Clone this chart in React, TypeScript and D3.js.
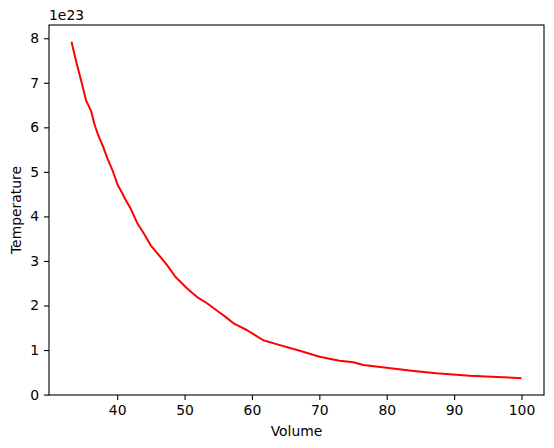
import React, { useEffect, useRef } from 'react';
import * as d3 from 'd3';

// Volume values
const volume = [
  33.22, 33.66, 34.01, 34.65, 35.39, 36.12, 36.61, 37.11, 37.85, 38.58,
  39.32, 40.06, 40.8, 41.03, 42.02, 43.01, 43.98, 44.97, 46.19, 47.43,
  48.66, 50.38, 51.86, 53.33, 55.04, 56.03, 57.26, 59.23, 61.68, 64.14,
  67.09, 70.04, 72.99, 75.06, 76.53, 79.97, 83.66, 87.35, 92.27, 97.18, 100,
];

// Temperature in units of 1e23
const temperature = [
  7.92, 7.64, 7.42, 7.05, 6.6, 6.37, 6.08, 5.85, 5.59, 5.29,
  5.03, 4.71, 4.51, 4.43, 4.17, 3.84, 3.61, 3.35, 3.13, 2.9,
  2.64, 2.38, 2.19, 2.05, 1.86, 1.75, 1.6, 1.45, 1.22, 1.11,
  0.985, 0.85, 0.76, 0.725, 0.665, 0.604, 0.537, 0.479, 0.425, 0.39, 0.368,
];

const xTicks = [40, 50, 60, 70, 80, 90, 100];
const yTicks = [0, 1, 2, 3, 4, 5, 6, 7, 8];

const App: React.FC = () => {
  const svgRef = useRef<SVGSVGElement>(null);

  useEffect(() => {
    if (!svgRef.current) return;

    const width = 554;
    const height = 448;
    const margin = { top: 25, right: 10, bottom: 53, left: 49 };
    const innerW = width - margin.left - margin.right;
    const innerH = height - margin.top - margin.bottom;

    const svg = d3.select(svgRef.current);
    svg.selectAll('*').remove();
    svg.attr('width', width).attr('height', height);

    const font = 'DejaVu Sans, sans-serif';

    const g = svg.append('g').attr('transform', `translate(${margin.left},${margin.top})`);

    // matplotlib style 5% margins
    const [xMin, xMax] = d3.extent(volume) as [number, number];
    const [yMin, yMax] = d3.extent(temperature) as [number, number];
    const xPad = (xMax - xMin) * 0.05;
    const yPad = (yMax - yMin) * 0.05;

    const x = d3.scaleLinear().domain([xMin - xPad, xMax + xPad]).range([0, innerW]);
    const y = d3.scaleLinear().domain([yMin - yPad, yMax + yPad]).range([innerH, 0]);

    // Line
    const line = d3.line<number>()
      .x((_, i) => x(volume[i]))
      .y((d) => y(d));

    g.append('path')
      .datum(temperature)
      .attr('fill', 'none')
      .attr('stroke', '#ff0000')
      .attr('stroke-width', 2)
      .attr('stroke-linejoin', 'round')
      .attr('d', line);

    // Axes
    const xAxis = g.append('g')
      .attr('transform', `translate(0,${innerH})`)
      .call(d3.axisBottom(x).tickValues(xTicks).tickSize(5).tickPadding(5).tickFormat(d3.format('d')));
    const yAxis = g.append('g')
      .call(d3.axisLeft(y).tickValues(yTicks).tickSize(5).tickPadding(5).tickFormat(d3.format('d')));

    [xAxis, yAxis].forEach((ax) => {
      ax.select('.domain').remove();
      ax.selectAll('line').attr('stroke', '#000').attr('stroke-width', 1.1);
      ax.selectAll('text')
        .style('font-family', font)
        .style('font-size', '13.9px')
        .attr('fill', '#000');
    });

    // Frame
    g.append('rect')
      .attr('x', 0)
      .attr('y', 0)
      .attr('width', innerW)
      .attr('height', innerH)
      .attr('fill', 'none')
      .attr('stroke', '#000')
      .attr('stroke-width', 1.1);

    // Offset label
    svg.append('text')
      .attr('x', margin.left)
      .attr('y', margin.top - 5)
      .style('font-family', font)
      .style('font-size', '13.9px')
      .text('1e23');

    // Axis labels
    svg.append('text')
      .attr('x', margin.left + innerW / 2)
      .attr('y', 436)
      .attr('text-anchor', 'middle')
      .style('font-family', font)
      .style('font-size', '13.9px')
      .text('Volume');

    svg.append('text')
      .attr('transform', `translate(21,${margin.top + innerH / 2}) rotate(-90)`)
      .attr('text-anchor', 'middle')
      .style('font-family', font)
      .style('font-size', '13.9px')
      .text('Temperature');
  }, []);

  return (
    <div style={{ position: 'absolute', left: 0, top: 0, background: '#fff' }}>
      <svg ref={svgRef} style={{ display: 'block' }}></svg>
    </div>
  );
};

export default App;
